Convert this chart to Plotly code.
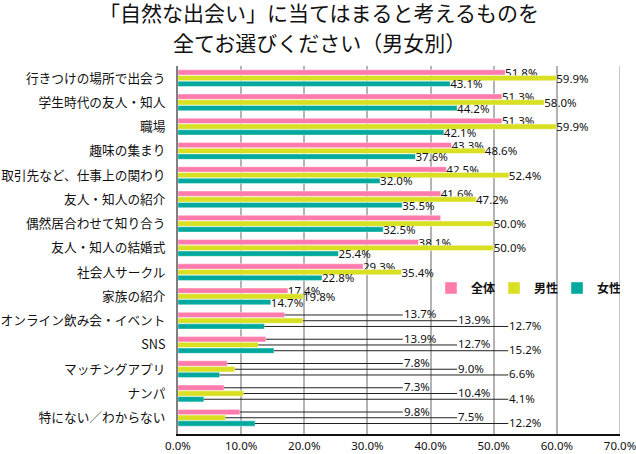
import plotly.graph_objects as go

categories = [
    "行きつけの場所で出会う", "学生時代の友人・知人", "職場", "趣味の集まり",
    "取引先など、仕事上の関わり", "友人・知人の紹介", "偶然居合わせて知り合う",
    "友人・知人の結婚式", "社会人サークル", "家族の紹介", "オンライン飲み会・イベント",
    "SNS", "マッチングアプリ", "ナンパ", "特にない／わからない",
]
series_names = ["全体", "男性", "女性"]
all_vals = [51.8, 51.3, 51.3, 43.3, 42.5, 41.6, 41.6, 38.1, 29.3, 17.4, 16.9, 13.9, 7.8, 7.3, 9.8]
male_vals = [59.9, 58.0, 59.9, 48.6, 52.4, 47.2, 50.0, 50.0, 35.4, 19.8, 19.8, 12.7, 9.0, 10.4, 7.5]
female_vals = [43.1, 44.2, 42.1, 37.6, 32.0, 35.5, 32.5, 25.4, 22.8, 14.7, 13.7, 15.2, 6.6, 4.1, 12.2]
all_labels = ["51.8%", "51.3%", "51.3%", "43.3%", "42.5%", "41.6%", "", "38.1%", "29.3%", "17.4%",
              "13.7%", "13.9%", "7.8%", "7.3%", "9.8%"]
male_labels = ["59.9%", "58.0%", "59.9%", "48.6%", "52.4%", "47.2%", "50.0%", "50.0%", "35.4%", "19.8%",
               "13.9%", "12.7%", "9.0%", "10.4%", "7.5%"]
female_labels = ["43.1%", "44.2%", "42.1%", "37.6%", "32.0%", "35.5%", "32.5%", "25.4%", "22.8%", "14.7%",
                 "12.7%", "15.2%", "6.6%", "4.1%", "12.2%"]
x_ticks = [0, 10, 20, 30, 40, 50, 60, 70]

colors = ["#FF7BAC", "#D9E021", "#00A99D"]
LEADER_START = 10            # rows from this index use leader lines
LEADER_X = [35.6, 44.2, 52.3]  # label anchor positions (layout)
BARGAP = 0.29

values = [all_vals, male_vals, female_vals]
labels = [all_labels, male_labels, female_labels]

CJK = "Noto Sans CJK JP"
NUMF = "Noto Sans"

fig = go.Figure()
for k in range(3):
    txt = [l if i < LEADER_START else "" for i, l in enumerate(labels[k])]
    fig.add_trace(go.Bar(
        y=categories, x=values[k], name=series_names[k], orientation="h",
        marker=dict(color=colors[k], line=dict(color="rgba(255,255,255,0.7)", width=0.6)),
        text=txt, textposition="outside", cliponaxis=False, constraintext="none",
        textfont=dict(family=NUMF, size=11.5, color="#111"),
        hoverinfo="skip",
    ))

slot = (1 - BARGAP) / 3
annotations = []
shapes = [dict(type="line", xref="x", yref="paper", x0=x_ticks[-1], x1=x_ticks[-1], y0=0, y1=1,
               line=dict(color="#B3B3B3", width=1.5), layer="below")]
for k in range(3):
    for i in range(LEADER_START, len(categories)):
        yc = i - (1 - BARGAP) / 2 + (k + 0.5) * slot
        shapes.append(dict(type="line", xref="x", yref="y", x0=values[k][i], x1=LEADER_X[k],
                           y0=yc, y1=yc, line=dict(color="#222", width=1)))
        annotations.append(dict(xref="x", yref="y", x=LEADER_X[k], y=yc, text=labels[k][i],
                                showarrow=False, xanchor="left", yanchor="middle", xshift=-1, yshift=1,
                                font=dict(family=NUMF, size=11.5, color="#111")))

annotations.append(dict(xref="paper", yref="paper", x=(319 - 178) / 442, y=(434 - 12) / 368,
                        text="「自然な出会い」に当てはまると考えるものを", showarrow=False,
                        xanchor="center", yanchor="middle",
                        font=dict(family=CJK, size=21, color="#111")))
annotations.append(dict(xref="paper", yref="paper", x=(319 - 178) / 442, y=(434 - 41.5) / 368,
                        text="全てお選びください（男女別）", showarrow=False,
                        xanchor="center", yanchor="middle",
                        font=dict(family=CJK, size=21, color="#111")))

fig.update_layout(
    width=636, height=454, autosize=False,
    margin=dict(l=178, r=16, t=66, b=20),
    paper_bgcolor="white", plot_bgcolor="white",
    barmode="group", bargap=BARGAP, bargroupgap=0.08,
    showlegend=True,
    legend=dict(orientation="h", x=1.0, y=(434 - 288) / 368, xanchor="right", yanchor="middle",
                bgcolor="rgba(0,0,0,0)", font=dict(family=CJK, size=12, color="#111", weight="bold"),
                traceorder="normal", itemwidth=30, entrywidth=18, tracegroupgap=0),
    shapes=shapes, annotations=annotations,
    xaxis=dict(range=[0, 70], tickvals=x_ticks, ticktext=[f"{v:.1f}%" for v in x_ticks],
               showgrid=True, gridcolor="#B3B3B3", gridwidth=1.5, zeroline=False,
               showline=True, linecolor="#111", linewidth=1.5, automargin=False,
               ticklabeloverflow="allow",
               tickfont=dict(family=NUMF, size=11.5, color="#111"), ticks="", fixedrange=True),
    yaxis=dict(autorange="reversed", showgrid=False, zeroline=False, automargin=False,
               showline=True, linecolor="#808080", linewidth=2,
               tickfont=dict(family=CJK, size=12.7, color="#111"),
               ticks="outside", ticklen=8, tickcolor="rgba(0,0,0,0)"),
)

fig.write_html(
    "out.html",
    config={"responsive": False, "displayModeBar": False},
    post_script="document.body.style.margin='0';document.body.style.overflow='hidden';",
)
